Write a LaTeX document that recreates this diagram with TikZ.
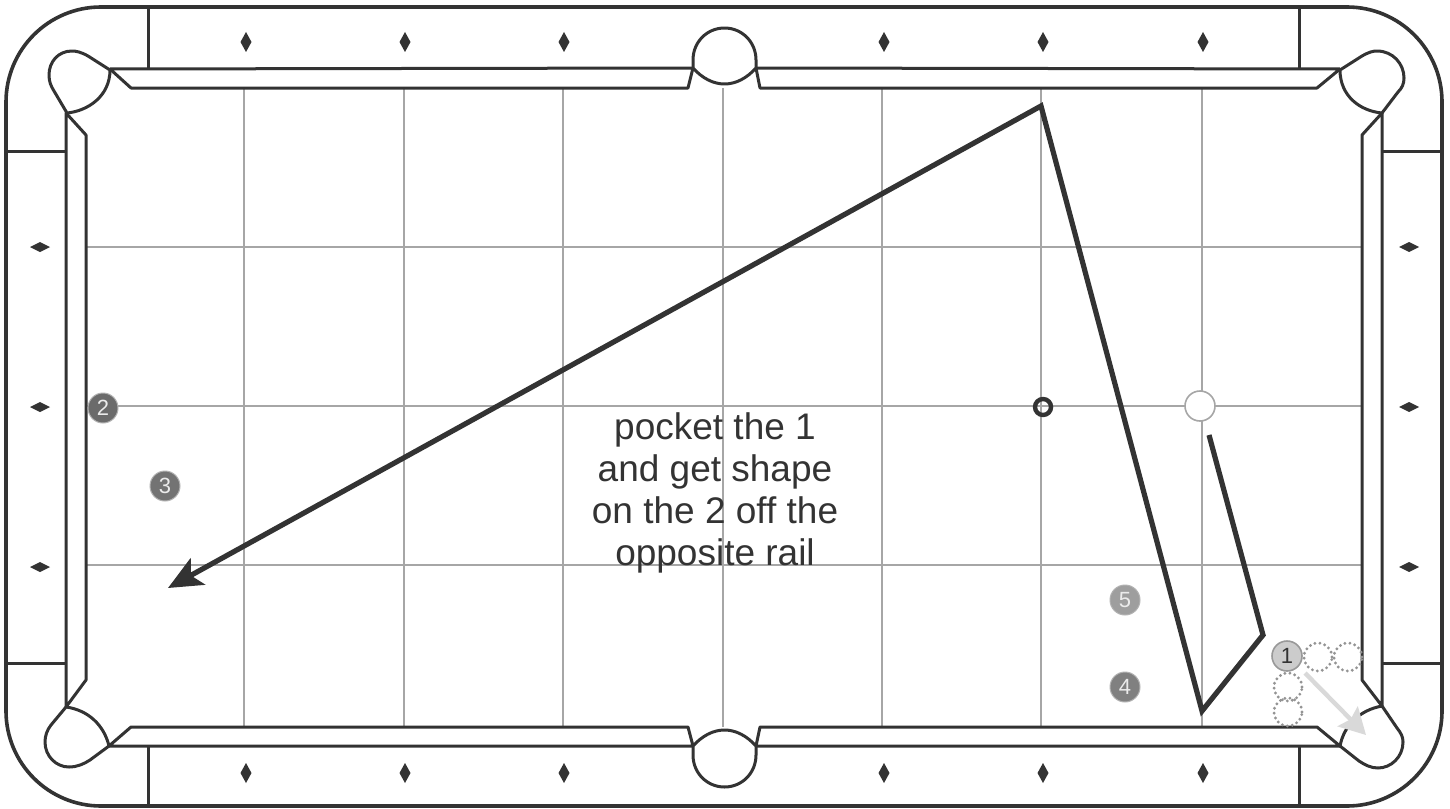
\documentclass[tikz,border=0pt]{standalone}
\usepackage{fontspec}
\setmainfont{Liberation Sans}
\usetikzlibrary{arrows.meta}
\definecolor{ink}{HTML}{333333}
\definecolor{gridgrey}{HTML}{A6A6A6}
\tikzset{
  tableline/.style={draw=ink,line width=3pt,line join=round},
  gridline/.style={draw=gridgrey,line width=2.4pt},
  shotline/.style={draw=ink,line width=5.2pt,line join=miter},
  ballbase/.style={circle,minimum size=30pt,inner sep=0pt,font=\fontsize{22}{22}\selectfont},
  darkball/.style={ballbase,fill=#1,draw=black!30,line width=1pt,text=white!92!black},
  ghost/.style={circle,minimum size=28pt,inner sep=0pt,draw=black!42,line width=3.2pt,line cap=round,dash pattern=on 0pt off 5pt},
}
\begin{document}
\begin{tikzpicture}[x=1pt,y=-1pt]
\useasboundingbox (0,0) rectangle (1450,808);
\fill[white] (0,0) rectangle (1450,808);
% grid
\foreach \x in {244,404,563,723,882,1041,1202} \draw[gridline] (\x,88) -- (\x,727);
\foreach \y in {247,406,565} \draw[gridline] (86,\y) -- (1362,\y);
% frame
\draw[tableline,line width=3.6pt,rounded corners=95pt] (6,7) rectangle (1442,806);
% frame stubs
\draw[tableline] (148,7) -- (148,69);
\draw[tableline] (1299,7) -- (1299,69);
\draw[tableline] (148,746) -- (148,806);
\draw[tableline] (1299,746) -- (1299,806);
\draw[tableline] (6,151) -- (66,151);
\draw[tableline] (6,663) -- (66,663);
\draw[tableline] (1382,151) -- (1442,151);
\draw[tableline] (1382,663) -- (1442,663);
% rails
\draw[tableline] (110,69) -- (131,88) -- (688,88) -- (693,68) -- (110,69);
\draw[tableline] (1340,69) -- (1317,88) -- (760,88) -- (756,68) -- (1340,69);
\draw[tableline] (109,746) -- (131,727) -- (688,727) -- (693,746) -- cycle;
\draw[tableline] (1340,746) -- (1317,727) -- (760,727) -- (756,746) -- cycle;
\draw[tableline] (66,113) -- (86,135) -- (86,680) -- (66,707) -- cycle;
\draw[tableline] (1382,113) -- (1362,135) -- (1362,680) -- (1382,706) -- cycle;
% corner pockets
\draw[tableline,fill=white] (110,70) -- (88,56) .. controls (81,52) and (76,51) .. (72,51)
  .. controls (58,51) and (49,62) .. (49,75) .. controls (49,82) and (51,86) .. (54,91) -- (67,113)
  .. controls (88,111) and (110,96) .. (110,70) -- cycle;
\draw[tableline,fill=white] (1340,70) -- (1362,56) .. controls (1369,52) and (1373,51) .. (1377,51)
  .. controls (1393,51) and (1404,64) .. (1404,78) .. controls (1404,84) and (1402,88) .. (1398,92) -- (1382,113)
  .. controls (1360,111) and (1340,96) .. (1340,70) -- cycle;
\draw[tableline,fill=white] (66,707) -- (51,725) .. controls (47,730) and (45,736) .. (45,742)
  .. controls (45,756) and (56,767) .. (69,767) .. controls (77,767) and (84,764) .. (90,760) -- (109,746)
  .. controls (104,725) and (88,710) .. (66,707) -- cycle;
\draw[tableline,fill=white] (1382,706) -- (1397,728) .. controls (1401,733) and (1403,737) .. (1403,742)
  .. controls (1403,757) and (1391,768) .. (1378,768) .. controls (1371,768) and (1365,765) .. (1359,761) -- (1340,746)
  .. controls (1344,725) and (1360,710) .. (1382,706) -- cycle;
% side pockets
\draw[tableline,fill=white] (693,68) -- (693,60) .. controls (693,42) and (707,28) .. (724.5,28)
  .. controls (742,28) and (756,42) .. (756,60) -- (756,68) .. controls (747,78) and (736,84) .. (724.5,84)
  .. controls (713,84) and (702,78) .. (693,68) -- cycle;
\draw[tableline,fill=white] (693,746) -- (693,755) .. controls (693,773) and (707,787) .. (724.5,787)
  .. controls (742,787) and (756,773) .. (756,755) -- (756,746) .. controls (747,736) and (736,730) .. (724.5,730)
  .. controls (713,730) and (702,736) .. (693,746) -- cycle;
% diamonds
\foreach \x in {246,405,564,884,1043,1203} {
  \fill[ink] (\x,32) -- (\x+5.5,42) -- (\x,52) -- (\x-5.5,42) -- cycle;
  \fill[ink] (\x,763) -- (\x+5.5,773) -- (\x,783) -- (\x-5.5,773) -- cycle;
}
\foreach \y in {247,407,567} {
  \fill[ink] (30,\y) -- (40,\y-5) -- (50,\y) -- (40,\y+5) -- cycle;
  \fill[ink] (1399,\y) -- (1409,\y-5) -- (1419,\y) -- (1409,\y+5) -- cycle;
}
% ghost balls
\node[ghost] (g1) at (1318,657) {};
\node[ghost] (g2) at (1348,657) {};
\node[ghost] (g3) at (1288,687) {};
\node[ghost] (g4) at (1288,712) {};
% balls
\node[darkball=black!58] (b2) at (103,408) {2};
\node[darkball=black!55] (b3) at (165,486) {3};
\node[darkball=black!50] (b4) at (1125,687) {4};
\node[darkball=black!38] (b5) at (1125,600) {5};
\node[ballbase,fill=black!20,draw=black!40,line width=1.6pt,text=ink] (b1) at (1287,656) {1};
\node[circle,minimum size=30pt,inner sep=0pt,fill=white,draw=gridgrey,line width=1.6pt] (cue) at (1200,406) {};
\node[circle,minimum size=16pt,inner sep=0pt,draw=ink,line width=4.4pt] (spot) at (1043,407) {};
% shot path
\coordinate (s0) at (1209,435);
\coordinate (s1) at (1263,635);
\coordinate (s2) at (1202,711);
\coordinate (s3) at (1041,106);
\coordinate (s4) at (168,588);
\draw[shotline,-{Stealth[length=34pt,width=30pt,inset=8pt]}] (s0) -- (s1) -- (s2) -- (s3) -- (s4);
% object ball path
\coordinate (p0) at (1305,673);
\coordinate (p1) at (1366,735);
\draw[draw=black!15,line width=4.4pt,-{Stealth[length=26pt,width=28pt,inset=4pt]}] (p0) -- (p1);
% text
\node[align=center,text=ink,font=\fontsize{37}{42}\selectfont,inner sep=0pt] (label) at (715,493)
  {pocket the 1\\and get shape\\on the 2 off the\\opposite rail};
\end{tikzpicture}
\end{document}
